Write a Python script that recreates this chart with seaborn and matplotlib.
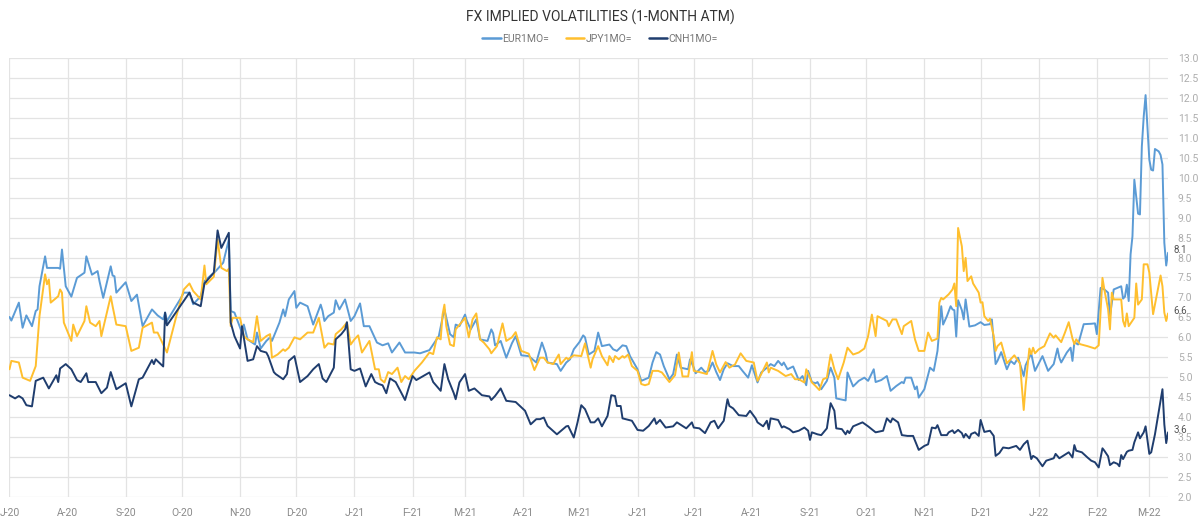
import numpy as np
import pandas as pd
import matplotlib
matplotlib.use("Agg")
import matplotlib.pyplot as plt
import matplotlib.dates as mdates
from matplotlib.lines import Line2D
from matplotlib.ticker import FuncFormatter, MultipleLocator
import seaborn as sns

TITLE = "FX IMPLIED VOLATILITIES (1-MONTH ATM)"
SERIES = ["EUR1MO=", "JPY1MO=", "CNH1MO="]
COLORS = ["#5B9BD5", "#FFBF2E", "#1F3D6E"]

eur_dates = [
    "2020-07-01", "2020-07-02", "2020-07-06", "2020-07-08", "2020-07-10", "2020-07-13", "2020-07-15", "2020-07-16",
    "2020-07-17", "2020-07-20", "2020-07-21", "2020-07-27", "2020-07-28", "2020-07-29", "2020-07-31", "2020-08-03",
    "2020-08-06", "2020-08-10", "2020-08-11", "2020-08-14", "2020-08-17", "2020-08-18", "2020-08-20", "2020-08-24",
    "2020-08-25", "2020-08-26", "2020-08-27", "2020-09-01", "2020-09-04", "2020-09-07", "2020-09-10", "2020-09-15",
    "2020-09-18", "2020-09-21", "2020-09-22", "2020-09-23", "2020-09-30", "2020-10-02", "2020-10-05", "2020-10-07",
    "2020-10-11", "2020-10-13", "2020-10-19", "2020-10-23", "2020-10-26", "2020-10-27", "2020-10-29", "2020-11-02",
    "2020-11-03", "2020-11-05", "2020-11-09", "2020-11-10", "2020-11-12", "2020-11-15", "2020-11-17", "2020-11-18",
    "2020-11-22", "2020-11-24", "2020-11-25", "2020-11-27", "2020-11-30", "2020-12-01", "2020-12-03", "2020-12-07",
    "2020-12-10", "2020-12-14", "2020-12-15", "2020-12-16", "2020-12-18", "2020-12-21", "2020-12-22", "2020-12-24",
    "2020-12-27", "2020-12-30", "2021-01-01", "2021-01-04", "2021-01-06", "2021-01-09", "2021-01-13", "2021-01-16",
    "2021-01-19", "2021-01-21", "2021-01-25", "2021-01-28", "2021-02-02", "2021-02-05", "2021-02-10", "2021-02-15",
    "2021-02-17", "2021-02-18", "2021-02-21", "2021-02-23", "2021-02-24", "2021-02-26", "2021-03-01", "2021-03-02",
    "2021-03-04", "2021-03-07", "2021-03-09", "2021-03-13", "2021-03-15", "2021-03-16", "2021-03-17", "2021-03-20",
    "2021-03-23", "2021-03-26", "2021-03-28", "2021-03-31", "2021-04-04", "2021-04-08", "2021-04-11", "2021-04-13",
    "2021-04-14", "2021-04-19", "2021-04-21", "2021-04-24", "2021-04-26", "2021-04-28", "2021-05-01", "2021-05-03",
    "2021-05-04", "2021-05-06", "2021-05-09", "2021-05-11", "2021-05-13", "2021-05-17", "2021-05-19", "2021-05-21",
    "2021-05-24", "2021-05-26", "2021-05-28", "2021-06-01", "2021-06-03", "2021-06-07", "2021-06-09", "2021-06-11",
    "2021-06-13", "2021-06-15", "2021-06-18", "2021-06-20", "2021-06-22", "2021-06-24", "2021-06-28", "2021-06-29",
    "2021-07-01", "2021-07-02", "2021-07-05", "2021-07-07", "2021-07-09", "2021-07-11", "2021-07-13", "2021-07-15",
    "2021-07-17", "2021-07-19", "2021-07-22", "2021-07-25", "2021-07-27", "2021-07-30", "2021-08-01", "2021-08-04",
    "2021-08-06", "2021-08-09", "2021-08-11", "2021-08-13", "2021-08-15", "2021-08-17", "2021-08-18", "2021-08-20",
    "2021-08-23", "2021-08-26", "2021-08-28", "2021-08-30", "2021-08-31", "2021-09-02", "2021-09-04", "2021-09-05",
    "2021-09-07", "2021-09-10", "2021-09-12", "2021-09-14", "2021-09-15", "2021-09-20", "2021-09-21", "2021-09-24",
    "2021-09-27", "2021-09-30", "2021-10-02", "2021-10-05", "2021-10-06", "2021-10-09", "2021-10-12", "2021-10-14",
    "2021-10-17", "2021-10-20", "2021-10-21", "2021-10-22", "2021-10-25", "2021-10-27", "2021-10-28", "2021-10-29",
    "2021-11-01", "2021-11-04", "2021-11-06", "2021-11-08", "2021-11-10", "2021-11-11", "2021-11-13", "2021-11-15",
    "2021-11-16", "2021-11-17", "2021-11-18", "2021-11-19", "2021-11-21", "2021-11-22", "2021-11-23", "2021-11-25",
    "2021-11-28", "2021-12-01", "2021-12-03", "2021-12-06", "2021-12-07", "2021-12-09", "2021-12-10", "2021-12-12",
    "2021-12-15", "2021-12-17", "2021-12-19", "2021-12-21", "2021-12-24", "2021-12-25", "2021-12-28", "2021-12-29",
    "2021-12-30", "2022-01-03", "2022-01-06", "2022-01-09", "2022-01-11", "2022-01-12", "2022-01-13", "2022-01-16",
    "2022-01-18", "2022-01-19", "2022-01-20", "2022-01-22", "2022-01-25", "2022-01-29", "2022-01-31", "2022-02-01",
    "2022-02-03", "2022-02-05", "2022-02-07", "2022-02-08", "2022-02-10", "2022-02-12", "2022-02-14", "2022-02-15",
    "2022-02-16", "2022-02-17", "2022-02-18", "2022-02-19", "2022-02-20", "2022-02-21", "2022-02-23", "2022-02-24",
    "2022-02-25", "2022-02-26", "2022-02-27", "2022-03-01", "2022-03-02", "2022-03-03", "2022-03-04", "2022-03-06",
    "2022-03-07", "2022-03-08", "2022-03-09", "2022-03-10", "2022-03-11",
]
eur_vals = [
    6.51, 6.42, 6.87, 6.24, 6.55, 6.28, 6.66, 6.70,
    7.28, 8.03, 7.74, 7.74, 7.72, 8.20, 7.28, 7.02,
    7.49, 7.62, 8.03, 7.57, 7.66, 7.41, 6.99, 7.78,
    7.55, 7.53, 7.12, 7.38, 6.91, 7.07, 6.28, 6.70,
    6.55, 6.45, 6.62, 6.41, 6.95, 7.12, 7.12, 6.83,
    7.03, 7.41, 7.66, 7.87, 8.45, 6.66, 6.62, 6.12,
    6.32, 5.95, 5.82, 6.12, 5.72, 5.91, 6.00, 5.91,
    6.37, 6.70, 6.53, 6.95, 7.16, 6.74, 6.87, 6.78,
    6.32, 6.82, 6.66, 6.41, 6.53, 6.62, 6.93, 6.70,
    6.95, 6.41, 6.53, 6.85, 6.28, 6.28, 5.87, 5.80,
    5.85, 5.62, 5.87, 5.62, 5.62, 5.60, 5.68, 6.03,
    6.49, 6.70, 6.08, 6.00, 6.32, 6.28, 6.57, 6.41,
    6.20, 6.45, 5.95, 5.91, 6.20, 6.10, 5.80, 5.91,
    5.49, 5.85, 6.03, 5.55, 5.53, 5.37, 5.87, 5.60,
    5.37, 5.33, 5.16, 5.37, 5.45, 5.70, 5.88, 6.05,
    6.00, 5.57, 5.66, 6.12, 5.78, 5.82, 5.70, 5.66,
    5.80, 5.78, 5.53, 5.20, 4.91, 4.99, 5.37, 5.63,
    5.57, 5.28, 4.95, 5.08, 5.57, 5.24, 5.20, 5.45,
    5.24, 5.10, 5.24, 5.13, 5.16, 5.37, 5.13, 4.93,
    5.20, 5.35, 5.28, 5.28, 5.16, 4.99, 5.30, 4.87,
    5.12, 5.24, 5.33, 5.28, 5.41, 5.30, 5.37, 5.20,
    5.27, 4.93, 5.03, 4.80, 5.16, 4.88, 4.85, 4.88,
    4.70, 4.91, 5.24, 4.99, 4.47, 4.42, 5.12, 4.77,
    4.91, 4.99, 4.91, 5.20, 4.88, 4.93, 5.03, 4.66,
    4.78, 4.88, 4.85, 4.99, 4.99, 4.70, 4.77, 4.49,
    4.70, 5.24, 5.16, 5.66, 6.78, 6.32, 6.53, 6.78,
    6.70, 6.68, 6.02, 6.93, 6.68, 6.45, 6.95, 6.27,
    6.30, 6.38, 6.31, 6.33, 6.45, 5.33, 5.41, 5.63,
    5.20, 5.41, 5.33, 5.49, 5.03, 5.30, 5.60, 5.37,
    5.16, 5.53, 5.16, 5.33, 5.72, 5.49, 5.37, 5.62,
    5.74, 5.41, 5.88, 5.82, 6.33, 6.34, 6.35, 6.08,
    7.24, 7.20, 7.12, 6.53, 7.20, 7.24, 7.28, 6.97,
    7.02, 7.32, 6.91, 8.08, 8.53, 9.95, 9.10, 9.08,
    10.78, 11.53, 12.07, 10.45, 10.20, 10.18, 10.72, 10.66,
    10.57, 10.33, 8.37, 7.80, 8.12,
]

jpy_dates = [
    "2020-07-01", "2020-07-02", "2020-07-06", "2020-07-08", "2020-07-12", "2020-07-15", "2020-07-17", "2020-07-20",
    "2020-07-21", "2020-07-22", "2020-07-23", "2020-07-27", "2020-07-28", "2020-07-29", "2020-07-30", "2020-08-03",
    "2020-08-04", "2020-08-06", "2020-08-10", "2020-08-11", "2020-08-13", "2020-08-16", "2020-08-18", "2020-08-19",
    "2020-08-24", "2020-08-25", "2020-08-27", "2020-09-01", "2020-09-04", "2020-09-08", "2020-09-10", "2020-09-15",
    "2020-09-16", "2020-09-18", "2020-09-23", "2020-09-28", "2020-10-02", "2020-10-05", "2020-10-07", "2020-10-11",
    "2020-10-13", "2020-10-14", "2020-10-18", "2020-10-20", "2020-10-22", "2020-10-25", "2020-10-26", "2020-10-27",
    "2020-10-28", "2020-11-01", "2020-11-03", "2020-11-05", "2020-11-08", "2020-11-10", "2020-11-12", "2020-11-15",
    "2020-11-17", "2020-11-18", "2020-11-21", "2020-11-24", "2020-11-25", "2020-11-27", "2020-11-30", "2020-12-03",
    "2020-12-07", "2020-12-10", "2020-12-13", "2020-12-16", "2020-12-18", "2020-12-21", "2020-12-22", "2020-12-25",
    "2020-12-28", "2020-12-30", "2021-01-01", "2021-01-03", "2021-01-05", "2021-01-09", "2021-01-12", "2021-01-14",
    "2021-01-15", "2021-01-17", "2021-01-19", "2021-01-21", "2021-01-24", "2021-01-26", "2021-01-28", "2021-01-30",
    "2021-02-02", "2021-02-06", "2021-02-10", "2021-02-12", "2021-02-14", "2021-02-16", "2021-02-17", "2021-02-18",
    "2021-02-19", "2021-02-21", "2021-02-23", "2021-02-24", "2021-02-27", "2021-03-01", "2021-03-03", "2021-03-05",
    "2021-03-07", "2021-03-09", "2021-03-11", "2021-03-14", "2021-03-15", "2021-03-18", "2021-03-21", "2021-03-23",
    "2021-03-26", "2021-03-28", "2021-03-31", "2021-04-04", "2021-04-07", "2021-04-10", "2021-04-12", "2021-04-14",
    "2021-04-17", "2021-04-20", "2021-04-21", "2021-04-24", "2021-04-25", "2021-04-28", "2021-05-02", "2021-05-04",
    "2021-05-07", "2021-05-08", "2021-05-11", "2021-05-13", "2021-05-16", "2021-05-17", "2021-05-19", "2021-05-20",
    "2021-05-22", "2021-05-24", "2021-05-25", "2021-05-27", "2021-05-29", "2021-06-01", "2021-06-03", "2021-06-05",
    "2021-06-07", "2021-06-09", "2021-06-12", "2021-06-14", "2021-06-18", "2021-06-21", "2021-06-23", "2021-06-25",
    "2021-06-28", "2021-06-30", "2021-07-01", "2021-07-04", "2021-07-08", "2021-07-11", "2021-07-13", "2021-07-15",
    "2021-07-18", "2021-07-20", "2021-07-23", "2021-07-26", "2021-07-29", "2021-08-02", "2021-08-04", "2021-08-06",
    "2021-08-09", "2021-08-10", "2021-08-11", "2021-08-15", "2021-08-19", "2021-08-22", "2021-08-24", "2021-08-26",
    "2021-08-29", "2021-08-30", "2021-09-02", "2021-09-04", "2021-09-06", "2021-09-08", "2021-09-10", "2021-09-12",
    "2021-09-14", "2021-09-16", "2021-09-19", "2021-09-21", "2021-09-24", "2021-09-27", "2021-09-30", "2021-10-02",
    "2021-10-04", "2021-10-06", "2021-10-07", "2021-10-12", "2021-10-13", "2021-10-15", "2021-10-17", "2021-10-20",
    "2021-10-21", "2021-10-25", "2021-10-27", "2021-10-29", "2021-11-01", "2021-11-03", "2021-11-05", "2021-11-08",
    "2021-11-09", "2021-11-10", "2021-11-11", "2021-11-14", "2021-11-16", "2021-11-17", "2021-11-18", "2021-11-19",
    "2021-11-21", "2021-11-22", "2021-11-23", "2021-11-24", "2021-11-26", "2021-11-27", "2021-11-30", "2021-12-01",
    "2021-12-02", "2021-12-03", "2021-12-05", "2021-12-06", "2021-12-08", "2021-12-09", "2021-12-10", "2021-12-12",
    "2021-12-15", "2021-12-17", "2021-12-19", "2021-12-21", "2021-12-22", "2021-12-24", "2021-12-25", "2021-12-27",
    "2021-12-28", "2021-12-29", "2021-12-30", "2022-01-01", "2022-01-04", "2022-01-07", "2022-01-09", "2022-01-10",
    "2022-01-13", "2022-01-15", "2022-01-17", "2022-01-19", "2022-01-20", "2022-01-21", "2022-01-23", "2022-01-27",
    "2022-01-31", "2022-02-02", "2022-02-04", "2022-02-05", "2022-02-07", "2022-02-08", "2022-02-09", "2022-02-10",
    "2022-02-14", "2022-02-15", "2022-02-16", "2022-02-17", "2022-02-18", "2022-02-21", "2022-02-22", "2022-02-23",
    "2022-02-25", "2022-02-26", "2022-02-28", "2022-03-01", "2022-03-03", "2022-03-07", "2022-03-08", "2022-03-09",
    "2022-03-10", "2022-03-11",
]
jpy_vals = [
    5.20, 5.41, 5.37, 4.99, 4.91, 5.28, 6.53, 7.58,
    7.33, 7.45, 6.87, 7.03, 7.20, 7.12, 6.37, 5.91,
    6.32, 6.03, 6.41, 6.78, 6.37, 6.28, 6.41, 6.03,
    7.03, 6.78, 6.32, 6.28, 5.66, 5.74, 6.24, 6.37,
    6.12, 6.12, 5.62, 6.53, 7.20, 7.35, 7.16, 6.95,
    7.80, 7.33, 7.52, 8.45, 7.74, 7.66, 7.72, 6.28,
    6.49, 6.49, 6.03, 5.95, 5.88, 6.53, 5.91, 6.03,
    6.08, 5.49, 5.57, 5.70, 5.66, 5.74, 6.00, 5.95,
    6.12, 6.12, 6.49, 5.74, 5.85, 5.82, 6.08, 6.20,
    6.37, 5.82, 5.95, 6.05, 5.62, 5.91, 5.20, 5.20,
    4.95, 4.87, 5.13, 5.08, 5.24, 4.88, 5.03, 4.95,
    5.16, 5.37, 5.62, 5.58, 6.00, 5.95, 6.57, 6.82,
    6.28, 5.82, 5.78, 6.20, 6.37, 6.49, 6.00, 6.45,
    6.60, 5.95, 5.87, 5.70, 5.60, 5.78, 6.35, 5.91,
    6.00, 6.13, 5.66, 5.59, 5.18, 5.49, 5.49, 5.37,
    5.33, 5.57, 5.33, 5.49, 5.45, 5.55, 5.53, 5.85,
    5.24, 5.45, 5.78, 5.53, 5.30, 5.53, 5.38, 5.53,
    5.45, 5.53, 5.49, 5.57, 5.28, 5.16, 4.83, 4.80,
    4.83, 5.16, 5.16, 5.12, 4.88, 5.05, 5.62, 5.02,
    5.02, 5.63, 5.16, 5.13, 5.08, 5.66, 5.32, 5.12,
    5.38, 5.24, 5.32, 5.60, 5.41, 5.37, 4.91, 5.08,
    5.37, 5.12, 5.24, 5.16, 5.03, 5.08, 4.95, 4.95,
    4.87, 5.20, 4.87, 4.78, 4.68, 4.95, 4.99, 5.57,
    5.20, 4.95, 5.37, 5.74, 5.57, 5.62, 5.72, 6.03,
    6.57, 6.03, 6.53, 6.41, 6.28, 6.45, 6.45, 6.08,
    6.28, 6.41, 5.95, 5.66, 5.66, 6.12, 5.91, 5.97,
    6.87, 6.99, 6.95, 7.08, 7.20, 7.35, 6.78, 8.74,
    8.28, 7.66, 7.99, 7.41, 7.53, 7.35, 7.12, 6.87,
    6.88, 6.53, 6.41, 6.47, 6.03, 5.66, 5.78, 5.87,
    5.35, 5.45, 5.55, 5.41, 5.35, 4.18, 4.78, 5.72,
    5.58, 5.74, 5.60, 5.70, 5.78, 6.10, 5.99, 6.05,
    5.88, 6.12, 6.38, 5.97, 5.83, 5.95, 5.83, 5.78,
    5.72, 5.80, 7.49, 7.20, 6.70, 6.20, 7.12, 6.95,
    6.95, 6.41, 6.27, 6.60, 6.28, 6.49, 7.35, 6.82,
    6.95, 7.83, 7.83, 7.62, 6.58, 7.55, 7.28, 6.62,
    6.41, 6.60,
]

cnh_dates = [
    "2020-07-01", "2020-07-04", "2020-07-06", "2020-07-08", "2020-07-10", "2020-07-13", "2020-07-15", "2020-07-19",
    "2020-07-22", "2020-07-26", "2020-07-27", "2020-07-28", "2020-07-31", "2020-08-03", "2020-08-06", "2020-08-08",
    "2020-08-11", "2020-08-12", "2020-08-16", "2020-08-19", "2020-08-22", "2020-08-24", "2020-08-27", "2020-09-01",
    "2020-09-04", "2020-09-08", "2020-09-10", "2020-09-15", "2020-09-16", "2020-09-17", "2020-09-21", "2020-09-22",
    "2020-09-23", "2020-10-05", "2020-10-07", "2020-10-11", "2020-10-13", "2020-10-18", "2020-10-20", "2020-10-22",
    "2020-10-26", "2020-10-27", "2020-10-29", "2020-11-01", "2020-11-02", "2020-11-05", "2020-11-08", "2020-11-10",
    "2020-11-12", "2020-11-15", "2020-11-16", "2020-11-19", "2020-11-20", "2020-11-24", "2020-11-26", "2020-11-27",
    "2020-11-30", "2020-12-03", "2020-12-07", "2020-12-10", "2020-12-13", "2020-12-15", "2020-12-17", "2020-12-21",
    "2020-12-22", "2020-12-25", "2020-12-27", "2020-12-28", "2020-12-30", "2021-01-01", "2021-01-04", "2021-01-07",
    "2021-01-10", "2021-01-12", "2021-01-14", "2021-01-16", "2021-01-18", "2021-01-20", "2021-01-23", "2021-01-25",
    "2021-01-28", "2021-01-30", "2021-02-01", "2021-02-03", "2021-02-10", "2021-02-12", "2021-02-16", "2021-02-18",
    "2021-02-20", "2021-02-23", "2021-02-24", "2021-02-26", "2021-03-01", "2021-03-03", "2021-03-06", "2021-03-10",
    "2021-03-14", "2021-03-15", "2021-03-17", "2021-03-20", "2021-03-23", "2021-03-28", "2021-04-02", "2021-04-05",
    "2021-04-08", "2021-04-10", "2021-04-12", "2021-04-14", "2021-04-19", "2021-04-24", "2021-04-25", "2021-04-28",
    "2021-04-30", "2021-05-02", "2021-05-04", "2021-05-07", "2021-05-09", "2021-05-11", "2021-05-13", "2021-05-16",
    "2021-05-18", "2021-05-20", "2021-05-21", "2021-05-23", "2021-05-24", "2021-05-29", "2021-06-01", "2021-06-04",
    "2021-06-07", "2021-06-10", "2021-06-11", "2021-06-13", "2021-06-16", "2021-06-20", "2021-06-22", "2021-06-27",
    "2021-06-30", "2021-07-01", "2021-07-04", "2021-07-07", "2021-07-10", "2021-07-12", "2021-07-14", "2021-07-17",
    "2021-07-19", "2021-07-20", "2021-07-22", "2021-07-25", "2021-07-29", "2021-07-31", "2021-08-03", "2021-08-04",
    "2021-08-07", "2021-08-09", "2021-08-10", "2021-08-11", "2021-08-15", "2021-08-17", "2021-08-18", "2021-08-21",
    "2021-08-23", "2021-08-26", "2021-08-29", "2021-08-31", "2021-09-01", "2021-09-02", "2021-09-05", "2021-09-07",
    "2021-09-10", "2021-09-12", "2021-09-14", "2021-09-15", "2021-09-18", "2021-09-20", "2021-09-21", "2021-09-22",
    "2021-09-24", "2021-09-29", "2021-10-02", "2021-10-06", "2021-10-10", "2021-10-12", "2021-10-14", "2021-10-15",
    "2021-10-18", "2021-10-20", "2021-10-23", "2021-10-26", "2021-10-29", "2021-11-01", "2021-11-03", "2021-11-05",
    "2021-11-07", "2021-11-08", "2021-11-10", "2021-11-13", "2021-11-14", "2021-11-16", "2021-11-17", "2021-11-19",
    "2021-11-21", "2021-11-22", "2021-11-23", "2021-11-25", "2021-11-26", "2021-11-28", "2021-11-30", "2021-12-01",
    "2021-12-03", "2021-12-06", "2021-12-08", "2021-12-09", "2021-12-11", "2021-12-13", "2021-12-16", "2021-12-20",
    "2021-12-22", "2021-12-24", "2021-12-26", "2021-12-28", "2021-12-29", "2021-12-31", "2022-01-03", "2022-01-05",
    "2022-01-09", "2022-01-10", "2022-01-12", "2022-01-14", "2022-01-17", "2022-01-19", "2022-01-20", "2022-01-21",
    "2022-01-24", "2022-01-27", "2022-01-29", "2022-01-31", "2022-02-02", "2022-02-04", "2022-02-05", "2022-02-07",
    "2022-02-08", "2022-02-10", "2022-02-12", "2022-02-13", "2022-02-14", "2022-02-15", "2022-02-17", "2022-02-18",
    "2022-02-20", "2022-02-21", "2022-02-23", "2022-02-24", "2022-02-26", "2022-02-27", "2022-03-01", "2022-03-02",
    "2022-03-04", "2022-03-08", "2022-03-09", "2022-03-10", "2022-03-11",
]
cnh_vals = [
    4.55, 4.47, 4.53, 4.47, 4.30, 4.27, 4.91, 4.99,
    4.72, 5.05, 4.88, 5.22, 5.33, 5.20, 4.93, 4.88,
    5.10, 4.88, 4.88, 4.60, 4.74, 5.13, 4.70, 4.85,
    4.27, 4.95, 4.99, 5.43, 5.33, 5.45, 5.27, 6.62,
    6.30, 7.12, 6.87, 6.78, 7.35, 7.62, 8.68, 8.24,
    8.62, 6.37, 6.03, 5.72, 6.28, 5.41, 5.45, 5.78,
    5.66, 5.62, 5.53, 5.13, 5.08, 4.95, 5.08, 5.41,
    5.53, 4.88, 5.03, 5.20, 5.33, 4.97, 4.88, 5.24,
    5.95, 6.08, 6.20, 6.38, 5.20, 5.16, 5.22, 4.77,
    5.08, 4.88, 4.83, 4.80, 4.60, 4.97, 4.88, 4.70,
    4.43, 4.74, 5.03, 4.93, 5.12, 4.88, 4.66, 5.33,
    4.95, 4.60, 4.45, 4.87, 5.08, 4.66, 4.72, 4.55,
    4.52, 4.43, 4.53, 4.72, 4.41, 4.38, 4.16, 3.82,
    3.95, 3.95, 3.99, 3.78, 3.57, 3.77, 3.78, 3.49,
    3.87, 4.30, 4.20, 3.87, 3.87, 3.97, 3.77, 4.03,
    4.55, 4.53, 4.28, 4.28, 3.97, 3.91, 3.68, 3.66,
    3.78, 3.97, 3.83, 3.93, 3.74, 3.77, 3.87, 3.72,
    3.87, 3.74, 3.72, 3.60, 3.87, 3.91, 3.72, 3.91,
    4.45, 4.28, 4.22, 4.05, 4.03, 4.16, 3.97, 3.87,
    3.77, 3.91, 3.70, 3.97, 3.93, 3.74, 3.77, 3.70,
    3.62, 3.66, 3.74, 3.66, 3.43, 3.62, 3.57, 3.55,
    3.72, 4.35, 4.16, 3.72, 3.70, 3.57, 3.66, 3.60,
    3.77, 3.87, 3.77, 3.62, 3.66, 3.97, 3.87, 3.97,
    3.87, 3.55, 3.53, 3.53, 3.18, 3.28, 3.32, 3.74,
    3.72, 3.80, 3.55, 3.55, 3.62, 3.67, 3.60, 3.68,
    3.60, 3.49, 3.58, 3.47, 3.58, 3.62, 3.53, 3.93,
    3.63, 3.66, 3.53, 3.03, 3.10, 3.24, 3.22, 3.28,
    3.18, 3.32, 3.41, 2.95, 3.03, 2.97, 2.77, 2.91,
    2.97, 3.08, 2.97, 3.03, 3.12, 2.99, 3.30, 3.16,
    3.12, 2.99, 2.91, 2.87, 2.74, 3.22, 3.16, 3.02,
    2.80, 2.87, 2.83, 2.77, 3.05, 2.95, 3.13, 3.16,
    3.18, 3.37, 3.62, 3.47, 3.62, 3.77, 3.08, 3.12,
    3.57, 4.70, 3.82, 3.35, 3.62,
]

Y_MIN, Y_MAX, Y_STEP = 2.0, 13.0, 0.5
X_START, X_END = "2020-07-01", "2022-03-11"

frames = []
for name, d, v in [(SERIES[0], eur_dates, eur_vals),
                   (SERIES[1], jpy_dates, jpy_vals),
                   (SERIES[2], cnh_dates, cnh_vals)]:
    frames.append(pd.DataFrame({"date": pd.to_datetime(d), "vol": v, "series": name}))
df = pd.concat(frames, ignore_index=True)

sns.set_theme(style="white")
plt.rcParams["font.family"] = ["Roboto", "DejaVu Sans"]

fig = plt.figure(figsize=(12, 5.21), dpi=100)
ax = fig.add_axes([0.0079, 0.0461, 0.9655, 0.8426])

sns.lineplot(data=df, x="date", y="vol", hue="series", hue_order=SERIES,
             palette=COLORS, linewidth=1.4, ax=ax, legend=False, sort=True)

ax.set_xlim(pd.Timestamp(X_START), pd.Timestamp(X_END))
ax.set_ylim(Y_MIN, Y_MAX)
ax.yaxis.set_major_locator(MultipleLocator(Y_STEP))
ax.yaxis.tick_right()
ax.yaxis.set_major_formatter(FuncFormatter(lambda v, p: f"{v:.1f}"))
ax.tick_params(axis="y", length=0, pad=7, labelsize=7.5, labelcolor="#ADADAD")

ax.xaxis.set_major_locator(mdates.MonthLocator())
ax.xaxis.set_major_formatter(FuncFormatter(
    lambda x, p: mdates.num2date(x).strftime("%b")[0] + "-" + mdates.num2date(x).strftime("%y")))
ax.tick_params(axis="x", length=0, pad=8, labelsize=7.5, labelcolor="#8A8A8A")

ax.grid(True, which="major", axis="both", color="#E3E3E3", linewidth=0.9)
ax.set_axisbelow(True)
for s in ax.spines.values():
    s.set_visible(False)
ax.set_xlabel("")
ax.set_ylabel("")

for name, col in zip(SERIES, COLORS):
    sub = df[df["series"] == name].sort_values("date")
    last = sub.iloc[-1]
    ax.annotate(f"{last['vol']:.1f}", xy=(last["date"], last["vol"]), xytext=(4, 2),
                textcoords="offset points", ha="left", va="center",
                fontsize=7, color="#555555", annotation_clip=False)

fig.text(0.5, 1 - 17 / 521, TITLE, ha="center", va="center", fontsize=10,
         color="#333333")

handles = [Line2D([0], [0], color=c, lw=1.8) for c in COLORS]
fig.legend(handles, SERIES, loc="center", bbox_to_anchor=(0.5, 1 - 39 / 521), ncol=3,
           frameon=False, fontsize=7.5, handlelength=1.8, handletextpad=0.1,
           columnspacing=1.6, labelcolor="#777777")

fig.savefig("out.png", dpi=100)
